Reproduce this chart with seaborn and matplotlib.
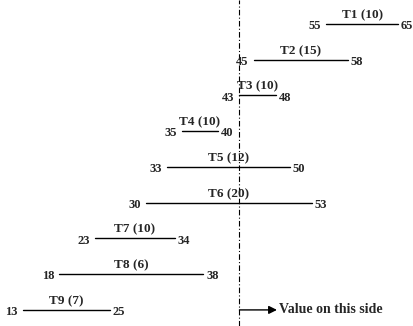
# --- Setup & Imports ---
import pandas as pd
import matplotlib
matplotlib.use('Agg')
import matplotlib.pyplot as plt
import seaborn as sns

# Task data
tasks = ['T1', 'T2', 'T3', 'T4', 'T5', 'T6', 'T7', 'T8', 'T9']
durations = [10, 15, 10, 10, 12, 20, 10, 6, 7]
starts = [55, 45, 43, 35, 33, 30, 23, 18, 13]
ends = [65, 58, 48, 40, 50, 53, 34, 38, 25]
split_value = 43  # the dash-dot reference line

# Long table: one row per segment end, so lineplot draws one segment per task
rows = []
for i, t in enumerate(tasks):
    rows.append({'Task': t, 'Row': i, 'Value': starts[i]})
    rows.append({'Task': t, 'Row': i, 'Value': ends[i]})
seg_df = pd.DataFrame(rows)

sns.set_style('white')
plt.rcParams['font.family'] = ['Liberation Serif', 'DejaVu Serif']

fig = plt.figure(figsize=(4.14, 3.26), dpi=100)
ax = fig.add_axes([0, 0, 1, 1])

sns.lineplot(data=seg_df, x='Value', y='Row', units='Task', estimator=None,
             sort=False, color='black', linewidth=1, legend=False, ax=ax)

# Labels: start value on the left, end value on the right, task name above
for i, t in enumerate(tasks):
    ax.text(starts[i] - 0.7, i + 0.06, str(starts[i]), ha='right', va='center',
            fontsize=9, fontweight='bold')
    ax.text(ends[i] + 0.4, i + 0.06, str(ends[i]), ha='left', va='center',
            fontsize=9, fontweight='bold')
    ax.text((starts[i] + ends[i]) / 2, i - 0.08, f'{t} ({durations[i]})',
            ha='center', va='bottom', fontsize=9.5, fontweight='bold')

# Dash-dot split line and the arrow note
ax.axvline(split_value, color='black', lw=0.8, linestyle=(0, (5, 2, 1, 2)))
ax.annotate('', xy=(48.2, 8), xytext=(split_value, 8),
            arrowprops=dict(arrowstyle='-|>', color='black', lw=1,
                            mutation_scale=12, shrinkA=0, shrinkB=0))
ax.text(48.5, 8, 'Value on this side', ha='left', va='center',
        fontsize=10, fontweight='bold')

ax.set_xlim(9.8, 67.2)
ax.set_ylim(8.45, -0.67)
ax.axis('off')

fig.savefig('out.png', dpi=100)
